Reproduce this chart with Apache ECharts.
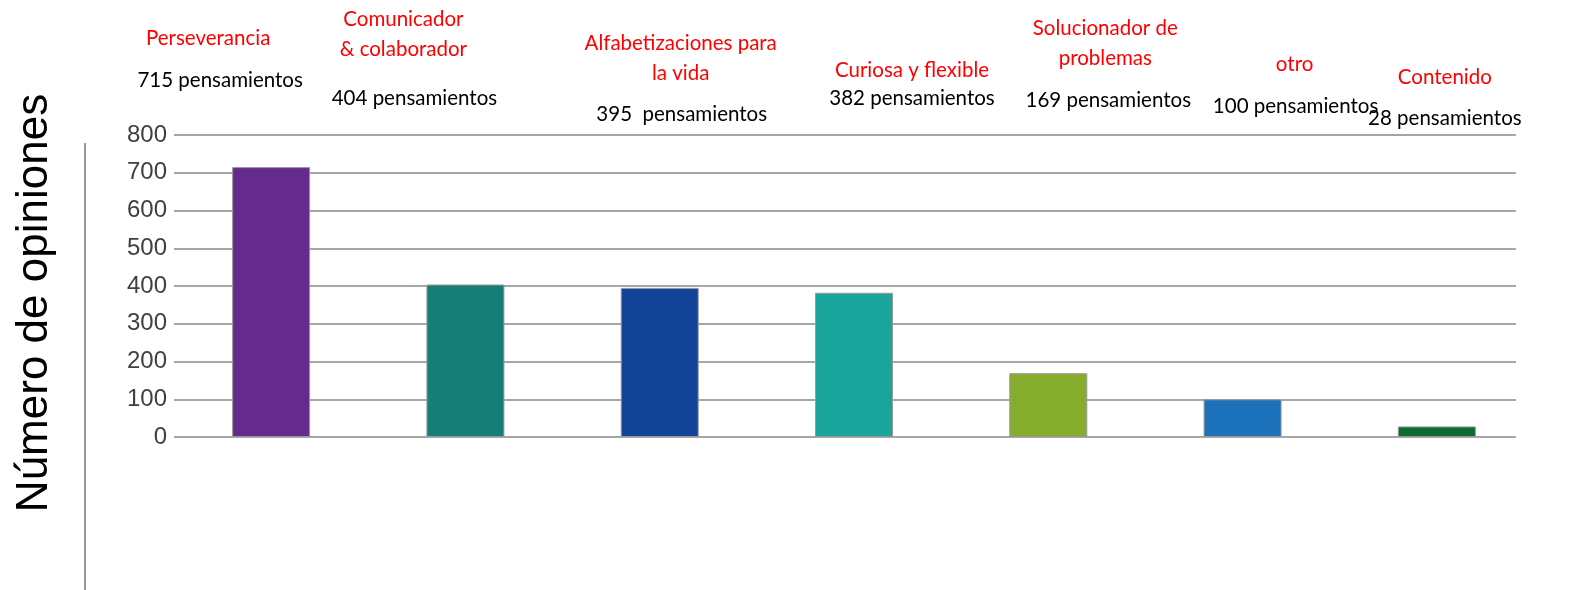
<!DOCTYPE html>
<html>
<head>
<meta charset="utf-8">
<script src="https://cdn.jsdelivr.net/npm/echarts@6/dist/echarts.min.js"></script>
<style>
  html, body { margin: 0; padding: 0; background: #fff; }
  #main { width: 1575px; height: 590px; }
</style>
</head>
<body>
<div id="main"></div>
<script>
// datos
var categorias = ['Perseverancia', 'Comunicador\n& colaborador', 'Alfabetizaciones para\nla vida', 'Curiosa y flexible', 'Solucionador de\nproblemas', 'otro', 'Contenido'];
var valores = [715, 404, 395, 382, 169, 100, 28];
var textosCuenta = ['715 pensamientos', '404 pensamientos', '395  pensamientos', '382 pensamientos', '169 pensamientos', '100 pensamientos', '28 pensamientos'];
var colores = ['#652b8c', '#157e77', '#134396', '#19a59b', '#87ad2f', '#1c72ba', '#0c6b30'];

var chart = echarts.init(document.getElementById('main'));

var option = {
  animation: false,
  grid: [
    { left: 174, right: 41, top: 135, bottom: 153 },
    // solo para las lineas de la cuadricula (terminan antes)
    { left: 174, right: 59, top: 135, bottom: 153 }
  ],
  xAxis: [
    { type: 'category', gridIndex: 0, data: categorias, axisLine: { show: false }, axisTick: { show: false }, axisLabel: { show: false } },
    { type: 'category', gridIndex: 1, data: categorias, show: false }
  ],
  yAxis: [
    { type: 'value', gridIndex: 0, min: 0, max: 800, interval: 100, show: false, splitLine: { show: false } },
    {
      type: 'value', gridIndex: 1, min: 0, max: 800, interval: 100,
      axisLine: { show: false }, axisTick: { show: false },
      axisLabel: { color: '#404040', fontSize: 24, fontFamily: 'Liberation Sans', margin: 7 },
      splitLine: { lineStyle: { color: '#a6a6a6', width: 2 } }
    }
  ],
  series: [{
    type: 'bar',
    xAxisIndex: 0, yAxisIndex: 0,
    barWidth: 78,
    data: valores.map(function (v, i) {
      return { value: v, itemStyle: { color: colores[i], borderColor: '#9a9a9a', borderWidth: 1 } };
    })
  }]
};
chart.setOption(option);

// textos arriba: desplazamiento respecto al centro de cada barra
var dxNombre = [-63, -62, 21, 58, 57, 52, 8];
var yNombre = [38, 34, 58, 70, 43, 64, 77];
var dxCuenta = [-51, -51, 22, 58, 60, 53, 8];
var yCuenta = [80, 98, 114, 98, 100, 106, 118];

var graficos = [];
categorias.forEach(function (c, i) {
  var x = chart.convertToPixel({ xAxisIndex: 0 }, c);
  graficos.push({
    type: 'text', x: x + dxNombre[i], y: yNombre[i],
    style: { text: c, fill: '#ff0000', font: '20.5px Lato', align: 'center', verticalAlign: 'middle', lineHeight: 30 }
  });
  graficos.push({
    type: 'text', x: x + dxCuenta[i], y: yCuenta[i],
    style: { text: textosCuenta[i], fill: '#000', font: '20.5px Lato', align: 'center', verticalAlign: 'middle' }
  });
});
graficos.push({
  type: 'text', x: 35, y: 303, rotation: Math.PI / 2,
  style: { text: 'Número de opiniones', fill: '#000', font: '44px "Liberation Sans"', align: 'center', verticalAlign: 'middle' }
});
graficos.push({
  type: 'line', shape: { x1: 85, y1: 143, x2: 85, y2: 590 },
  style: { stroke: '#9a9a9a', lineWidth: 2 }
});
chart.setOption({ graphic: graficos });
</script>
</body>
</html>
